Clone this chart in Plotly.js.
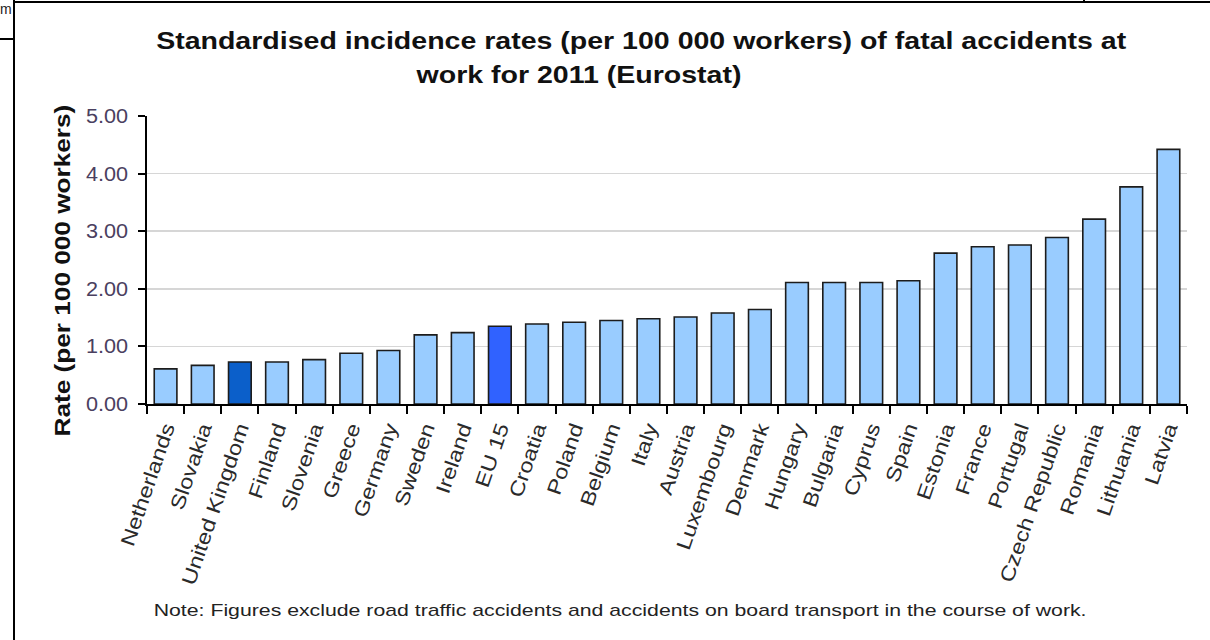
<!DOCTYPE html>
<html>
<head>
<meta charset="utf-8">
<script src="https://cdn.plot.ly/plotly-3.0.1.min.js"></script>
<style>
  html, body { margin: 0; padding: 0; background: #fff; }
  #wrap { position: relative; width: 1210px; height: 640px; overflow: hidden; }
  #chart { position: absolute; left: 0; top: 0; width: 1210px; height: 640px; }
  .edge { position: absolute; background: #000; pointer-events: none; }
  #corner { position: absolute; left: 0px; top: 1px; font: 14px "Liberation Sans", Arial, sans-serif; color: #222; }
</style>
</head>
<body>
<div id="wrap">
  <div id="chart"></div>
  <!-- page frame around the chart -->
  <div class="edge" style="left:13px; top:0; width:2px; height:640px;"></div>
  <div class="edge" style="left:13px; top:1px; width:1197px; height:2px;"></div>
  <div class="edge" style="left:1083px; top:0; width:2px; height:3px;"></div>
  <div class="edge" style="left:0; top:38px; width:14px; height:2px;"></div>
  <div id="corner">m</div>
</div>
<script>
// Fatal accident incidence rates per 100 000 workers, 2011
const countries = [
  "Netherlands", "Slovakia", "United Kingdom", "Finland", "Slovenia", "Greece",
  "Germany", "Sweden", "Ireland", "EU 15", "Croatia", "Poland", "Belgium", "Italy",
  "Austria", "Luxembourg", "Denmark", "Hungary", "Bulgaria", "Cyprus", "Spain",
  "Estonia", "France", "Portugal", "Czech Republic", "Romania", "Lithuania", "Latvia"
];
const rates = [
  0.61, 0.67, 0.73, 0.73, 0.77, 0.88,
  0.93, 1.20, 1.24, 1.35, 1.39, 1.42, 1.45, 1.48,
  1.51, 1.58, 1.64, 2.11, 2.11, 2.11, 2.14,
  2.62, 2.73, 2.76, 2.89, 3.21, 3.77, 4.42
];
const yTicks = [0, 1, 2, 3, 4, 5];

const titleLines = [
  "Standardised incidence rates (per 100 000 workers) of fatal accidents at",
  "work for 2011 (Eurostat)"
];
const yTitle = "Rate (per 100 000 workers)";
const note = "Note: Figures exclude road traffic accidents and accidents on board transport in the course of work.";

// plot area geometry (pixels)
const W = 1210, H = 640;
const M = { l: 147, r: 23, t: 116, b: 236 };
const plotW = W - M.l - M.r, plotH = H - M.t - M.b;
const px = x => (x - M.l) / plotW;
const py = y => (H - M.b - y) / plotH;

const FONT = '"Liberation Sans", Arial, sans-serif';

function barColor(name) {
  if (name === "United Kingdom") return "#0b5fca";
  if (name === "EU 15") return "#3062ff";
  return "#99ccff";
}

const trace = {
  type: "bar",
  x: countries,
  y: rates,
  marker: {
    color: countries.map(barColor),
    line: { color: "#1c1c1c", width: 1.6 }
  },
  hoverinfo: "x+y"
};

const layout = {
  width: W, height: H,
  margin: M,
  paper_bgcolor: "rgba(0,0,0,0)",
  plot_bgcolor: "rgba(0,0,0,0)",
  showlegend: false,
  bargap: 0.39,
  font: { family: FONT, color: "#222" },
  xaxis: {
    type: "category",
    showline: true, linecolor: "#000", linewidth: 2,
    ticks: "outside", tickson: "boundaries", ticklen: 8, tickwidth: 2, tickcolor: "#000",
    tickangle: -71,
    ticklabelstandoff: 3,
    tickfont: { family: FONT, size: 20, color: "#2a2a2a" },
    showgrid: false, zeroline: false,
    fixedrange: true
  },
  yaxis: {
    range: [0, 5],
    tickvals: yTicks,
    tickformat: ".2f",
    showline: true, linecolor: "#000", linewidth: 2,
    ticks: "outside", ticklen: 7, tickwidth: 2, tickcolor: "#000",
    ticklabelstandoff: 6,
    tickfont: { family: FONT, size: 20, color: "#4a4060" },
    showgrid: true, gridcolor: "#d6d6d6", gridwidth: 1.5,
    zeroline: false,
    fixedrange: true
  },
  annotations: [
    {
      text: titleLines[0], xref: "paper", yref: "paper",
      x: px(641), y: py(41), xanchor: "center", yanchor: "middle", showarrow: false,
      font: { family: FONT, size: 23, weight: 700, color: "#111" }
    },
    {
      text: titleLines[1], xref: "paper", yref: "paper",
      x: px(578), y: py(75), xanchor: "center", yanchor: "middle", showarrow: false,
      font: { family: FONT, size: 23, weight: 700, color: "#111" }
    },
    {
      text: yTitle, xref: "paper", yref: "paper",
      x: px(62), y: py(271), xanchor: "center", yanchor: "middle", showarrow: false,
      textangle: -90,
      font: { family: FONT, size: 22, weight: 700, color: "#111" }
    },
    {
      text: note, xref: "paper", yref: "paper",
      x: px(620), y: py(610), xanchor: "center", yanchor: "middle", showarrow: false,
      font: { family: FONT, size: 17, color: "#222" }
    }
  ]
};

// The lettering in this chart is set wide: widen each text run along its baseline.
function widen(nodes, factor) {
  nodes.forEach(t => {
    const len = t.getComputedTextLength();
    if (len > 0) {
      t.setAttribute("textLength", (len * factor).toFixed(1));
      t.setAttribute("lengthAdjust", "spacingAndGlyphs");
    }
  });
}

const gd = document.getElementById("chart");
Plotly.newPlot(gd, [trace], layout, { displayModeBar: false, staticPlot: true }).then(() => {
  const q = s => Array.from(gd.querySelectorAll(s));
  widen(q(".xtick text"), 1.19);
  widen(q(".ytick text"), 1.08);
  widen(q('.annotation[data-index="0"] text.annotation-text'), 1.24);
  widen(q('.annotation[data-index="1"] text.annotation-text'), 1.24);
  widen(q('.annotation[data-index="2"] text.annotation-text'), 1.19);
  widen(q('.annotation[data-index="3"] text.annotation-text'), 1.25);
});
</script>
</body>
</html>
